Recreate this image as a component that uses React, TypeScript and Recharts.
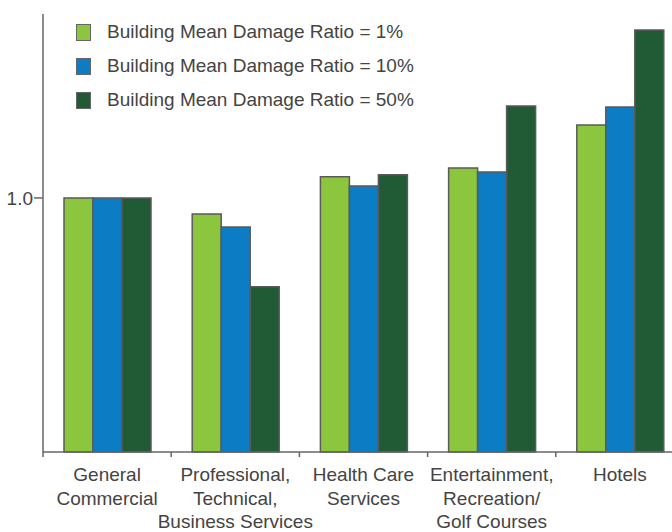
import React from 'react';
import { BarChart, Bar, XAxis, YAxis, Legend } from 'recharts';

const categories = [
  'General\nCommercial',
  'Professional,\nTechnical,\nBusiness Services',
  'Health Care\nServices',
  'Entertainment,\nRecreation/\nGolf Courses',
  'Hotels',
];

const ratio1 = [1.0, 0.937, 1.083, 1.118, 1.287];
const ratio10 = [1.0, 0.886, 1.047, 1.102, 1.358];
const ratio50 = [1.0, 0.65, 1.091, 1.362, 1.661];

const yTicks = [1.0];

const data = categories.map((name, i) => ({
  name,
  r1: ratio1[i],
  r10: ratio10[i],
  r50: ratio50[i],
}));

const CHART_W = 684;
const CHART_H = 532;
const Y_AXIS_W = 43;
const HALF_BAND = (CHART_W - Y_AXIS_W) / categories.length / 2;

const TEXT = '#444444';
const AXIS = '#666666';
const OUTLINE = '#5a5a5a';
const FONT = '"Liberation Sans", Arial, sans-serif';

function CategoryTick({ x, y, payload }: any) {
  const lines = String(payload.value).split('\n');
  return (
    <g>
      <line
        x1={x - HALF_BAND}
        x2={x - HALF_BAND}
        y1={y}
        y2={y + 5}
        stroke={AXIS}
        strokeWidth={1.5}
      />
      <text textAnchor="middle" fontSize={19} fill={TEXT} fontFamily={FONT}>
        {lines.map((line, i) => (
          <tspan key={i} x={x} y={y + 29 + i * 23.5}>
            {line}
          </tspan>
        ))}
      </text>
    </g>
  );
}

function DamageLegend({ payload }: any) {
  if (!payload) return null;
  return (
    <div style={{ fontFamily: FONT }}>
      {payload.map((entry: any, i: number) => (
        <div
          key={i}
          style={{ display: 'flex', alignItems: 'center', height: 34 }}
        >
          <span
            style={{
              width: 13,
              height: 15,
              background: entry.color,
              border: `1px solid ${AXIS}`,
              marginRight: 16,
              display: 'inline-block',
            }}
          />
          <span style={{ fontSize: 19, color: TEXT, whiteSpace: 'nowrap' }}>
            {entry.value}
          </span>
        </div>
      ))}
    </div>
  );
}

export default function App() {
  return (
    <div
      style={{
        position: 'absolute',
        left: 0,
        top: 0,
        width: 672,
        height: 532,
        overflow: 'hidden',
        background: '#fff',
      }}
    >
      <BarChart
        width={CHART_W}
        height={CHART_H}
        data={data}
        margin={{ top: 14, right: 0, bottom: 0, left: 0 }}
        barCategoryGap={21}
        barGap={0}
      >
        <XAxis
          dataKey="name"
          height={80}
          tickLine={false}
          tickSize={0}
          tickMargin={0}
          interval={0}
          axisLine={{ stroke: AXIS, strokeWidth: 1.5 }}
          tick={<CategoryTick />}
        />
        <YAxis
          width={Y_AXIS_W}
          domain={[0, 1.724]}
          ticks={yTicks}
          tickFormatter={(v: number) => v.toFixed(1)}
          tickSize={9}
          tickMargin={1}
          axisLine={{ stroke: AXIS, strokeWidth: 1.5 }}
          tickLine={{ stroke: AXIS, strokeWidth: 1.5 }}
          tick={{ fontSize: 19, fill: TEXT, fontFamily: FONT }}
        />
        <Legend
          layout="vertical"
          align="center"
          verticalAlign="middle"
          wrapperStyle={{ top: 15, left: 76, width: 'auto', height: 'auto' }}
          content={<DamageLegend />}
        />
        <Bar
          dataKey="r1"
          name="Building Mean Damage Ratio = 1%"
          fill="#8cc63e"
          stroke={OUTLINE}
          strokeWidth={1.5}
          isAnimationActive={false}
        />
        <Bar
          dataKey="r10"
          name="Building Mean Damage Ratio = 10%"
          fill="#0c7dc4"
          stroke={OUTLINE}
          strokeWidth={1.5}
          isAnimationActive={false}
        />
        <Bar
          dataKey="r50"
          name="Building Mean Damage Ratio = 50%"
          fill="#215b36"
          stroke={OUTLINE}
          strokeWidth={1.5}
          isAnimationActive={false}
        />
      </BarChart>
    </div>
  );
}
